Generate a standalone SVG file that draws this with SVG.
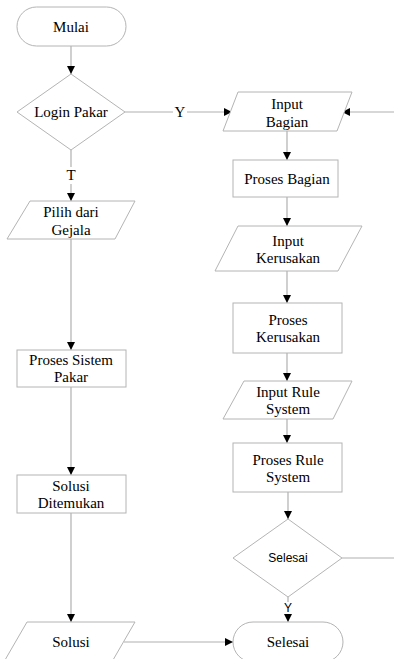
<svg xmlns="http://www.w3.org/2000/svg" width="394" height="659" viewBox="0 0 394 659">
<defs>
<marker id="arr" viewBox="0 0 10 10" refX="10" refY="5" markerWidth="8" markerHeight="8" markerUnits="userSpaceOnUse" orient="auto">
<path d="M0,0 L10,5 L0,10 Z" fill="#000"/>
</marker>
<style>
.s{fill:#fff;stroke:#b4b4b4;stroke-width:1}
.c{fill:none;stroke:#b0b0b0;stroke-width:1.2}
.t{font-family:"Liberation Serif","Times New Roman",serif;font-size:15px;fill:#000;text-anchor:middle;dominant-baseline:central}
.a{font-family:"Liberation Sans",Arial,sans-serif;font-size:12px;fill:#000;text-anchor:middle;dominant-baseline:central}
</style>
</defs>
<rect width="394" height="659" fill="#fff"/>
<g id="connectors">
<line class="c" x1="71" y1="46" x2="71" y2="74" marker-end="url(#arr)"/>
<line class="c" x1="125" y1="112" x2="173" y2="112"/>
<line class="c" x1="187" y1="112" x2="232" y2="112" marker-end="url(#arr)"/>
<text class="t" x="180" y="112">Y</text>
<line class="c" x1="394" y1="112" x2="342" y2="112" marker-end="url(#arr)"/>
<line class="c" x1="71" y1="150" x2="71" y2="167"/>
<text class="t" x="71" y="175">T</text>
<line class="c" x1="71" y1="184" x2="71" y2="201" marker-end="url(#arr)"/>
<line class="c" x1="287" y1="131" x2="287" y2="160" marker-end="url(#arr)"/>
<line class="c" x1="287" y1="197" x2="287" y2="226" marker-end="url(#arr)"/>
<line class="c" x1="287" y1="271" x2="287" y2="303" marker-end="url(#arr)"/>
<line class="c" x1="287" y1="353" x2="287" y2="381" marker-end="url(#arr)"/>
<line class="c" x1="287" y1="419" x2="287" y2="443" marker-end="url(#arr)"/>
<line class="c" x1="288" y1="492" x2="288" y2="519" marker-end="url(#arr)"/>
<line class="c" x1="342" y1="558" x2="394" y2="558"/>
<line class="c" x1="288" y1="597" x2="288" y2="602"/>
<text class="a" x="288" y="608">Y</text>
<line class="c" x1="288" y1="614" x2="288" y2="622" marker-end="url(#arr)"/>
<line class="c" x1="71" y1="239" x2="71" y2="350" marker-end="url(#arr)"/>
<line class="c" x1="71" y1="387" x2="71" y2="475" marker-end="url(#arr)"/>
<line class="c" x1="71" y1="513" x2="71" y2="622" marker-end="url(#arr)"/>
<line class="c" x1="124" y1="642" x2="233" y2="642" marker-end="url(#arr)"/>
</g>
<g id="mulai">
<rect class="s" x="17" y="7" width="109" height="39" rx="19.5"/>
<text class="t" x="71" y="27">Mulai</text>
</g>
<g id="login">
<polygon class="s" points="71,74 125,112 71,150 17,112"/>
<text class="t" x="71" y="112">Login Pakar</text>
</g>
<g id="pilih">
<polygon class="s" points="30,201 135,201 115,239 7,239"/>
<text class="t" x="71" y="212">Pilih dari</text>
<text class="t" x="71" y="230">Gejala</text>
</g>
<g id="proses-sistem">
<rect class="s" x="17" y="350" width="109" height="37"/>
<text class="t" x="71" y="360">Proses Sistem</text>
<text class="t" x="71" y="377">Pakar</text>
</g>
<g id="solusi-ditemukan">
<rect class="s" x="17" y="475" width="109" height="38"/>
<text class="t" x="71" y="486">Solusi</text>
<text class="t" x="71" y="503">Ditemukan</text>
</g>
<g id="solusi">
<polygon class="s" points="27,622 135,622 113,660 5,660"/>
<text class="t" x="71" y="642">Solusi</text>
</g>
<g id="input-bagian">
<polygon class="s" points="238,92 352,92 337,131 223,131"/>
<text class="t" x="287" y="104">Input</text>
<text class="t" x="287" y="122">Bagian</text>
</g>
<g id="proses-bagian">
<rect class="s" x="233" y="160" width="105" height="37"/>
<text class="t" x="287" y="179">Proses Bagian</text>
</g>
<g id="input-kerusakan">
<polygon class="s" points="238,226 362,226 338,271 215,271"/>
<text class="t" x="288" y="241">Input</text>
<text class="t" x="288" y="258">Kerusakan</text>
</g>
<g id="proses-kerusakan">
<rect class="s" x="233" y="303" width="109" height="50"/>
<text class="t" x="288" y="320">Proses</text>
<text class="t" x="288" y="337">Kerusakan</text>
</g>
<g id="input-rule">
<polygon class="s" points="244,381 352,381 333,419 223,419"/>
<text class="t" x="288" y="392">Input Rule</text>
<text class="t" x="288" y="409">System</text>
</g>
<g id="proses-rule">
<rect class="s" x="233" y="443" width="109" height="49"/>
<text class="t" x="288" y="460">Proses Rule</text>
<text class="t" x="288" y="477">System</text>
</g>
<g id="selesai-decision">
<polygon class="s" points="288,519 342,558 288,597 233,558"/>
<text class="a" x="288" y="558">Selesai</text>
</g>
<g id="selesai">
<rect class="s" x="233" y="622" width="110" height="40" rx="20"/>
<text class="t" x="288" y="642">Selesai</text>
</g>
</svg>
